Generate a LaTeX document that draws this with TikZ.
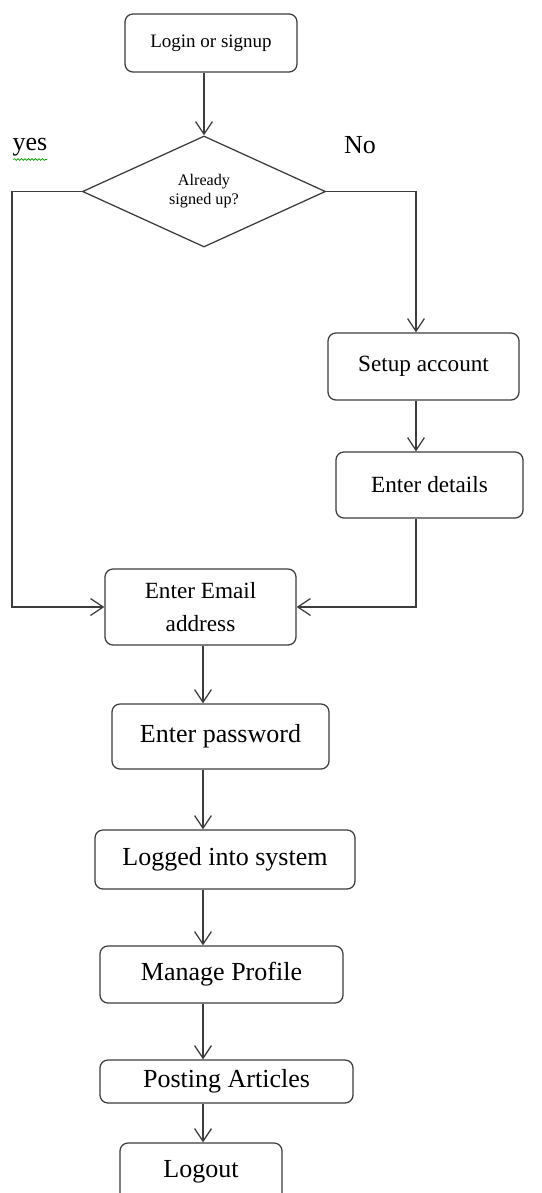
\documentclass[tikz,border=0pt]{standalone}
\usepackage{fontspec}
\setmainfont{Liberation Serif}
\usetikzlibrary{shapes.geometric}
\usetikzlibrary{arrows.meta}
\usetikzlibrary{decorations.pathmorphing}
\definecolor{linegray}{HTML}{3C3C3C}
\newcommand*{\boxfont}{\fontsize{18.5}{22}\selectfont}
\newcommand*{\midfont}{\fontsize{16.5}{19.5}\selectfont}
\tikzset{
    box/.style     = {draw=linegray, line width=0.9pt, rounded corners=0.2cm, align=center, inner sep=0pt},
    decision/.style= {draw=linegray, line width=0.9pt, diamond, inner sep=0pt, align=center,
                      font=\fontsize{11.5}{13.5}\selectfont},
    flow/.style    = {draw=linegray, line width=0.9pt, -{Straight Barb[length=9pt,width=12pt,line width=0.9pt]}},
    answer/.style  = {font=\fontsize{18.5}{22}\selectfont}
}

\begin{document}
\begin{tikzpicture}[x=0.025cm, y=-0.025cm]
    \useasboundingbox (0,0) rectangle (541,1193);
    \clip (0,0) rectangle (541,1193);
        % columns of the arrows
        \coordinate (spine) at (203,0);
        \coordinate (lcol)  at (12,0);
        \coordinate (rcol)  at (416,0);
        % boxes
        \node [box, minimum width=4.3cm,   minimum height=1.45cm,  font=\fontsize{13.5}{16}\selectfont] (login)   at (211,43)      {Login or signup};
        \node [decision, minimum width=6.075cm, minimum height=2.775cm] (dia) at (204,191.5) {Already\\signed up?};
        \node [box, minimum width=4.775cm, minimum height=1.675cm, font=\midfont] (setup)   at (423.5,366.5) {Setup account};
        \node [box, minimum width=4.675cm, minimum height=1.65cm,  font=\midfont] (details) at (429.5,485)   {Enter details};
        \node [box, minimum width=4.775cm, minimum height=1.9cm,   font=\fontsize{16.5}{24}\selectfont] (email) at (200.5,607) {Enter Email\\address};
        \node [box, minimum width=5.425cm, minimum height=1.625cm, font=\boxfont] (pass)    at (220.5,736.5) {Enter password};
        \node [box, minimum width=6.5cm,   minimum height=1.475cm, font=\boxfont] (logged)  at (225,859.5)   {Logged into system};
        \node [box, minimum width=6.075cm, minimum height=1.425cm, font=\boxfont] (manage)  at (221.5,974.5) {Manage Profile};
        \node [box, minimum width=6.325cm, minimum height=1.075cm, font=\boxfont] (post)    at (226.5,1081.5) {Posting Articles};
        \node [box, minimum width=4.05cm,  minimum height=1.45cm,  font=\boxfont] (logout)  at (201,1172)    {Logout};
        % answers
        \node [answer] (yes) at (30,147) {yes};
        \node [answer] (no)  at (360,145) {No};
        \draw [green!60!black, line width=0.5pt, decorate, decoration={snake, amplitude=0.6pt, segment length=2.5pt}]
            ([yshift=-3pt]yes.south west) ++(4pt,4pt) -- ++(24pt,0);
        % connectors
        \draw [flow] (login.south -| dia.north) -- (dia.north);
        \draw [flow] (dia.west) -| (lcol |- email.west) -- (email.west);
        \draw [flow] (dia.east) -| (rcol |- setup.north);
        \draw [flow] (rcol |- setup.south) -- (rcol |- details.north);
        \draw [flow] (rcol |- details.south) |- (email.east);
        \foreach \a/\b in {email/pass, pass/logged, logged/manage, manage/post, post/logout}
            \draw [flow] (spine |- \a.south) -- (spine |- \b.north);
    \end{tikzpicture}
\end{document}
